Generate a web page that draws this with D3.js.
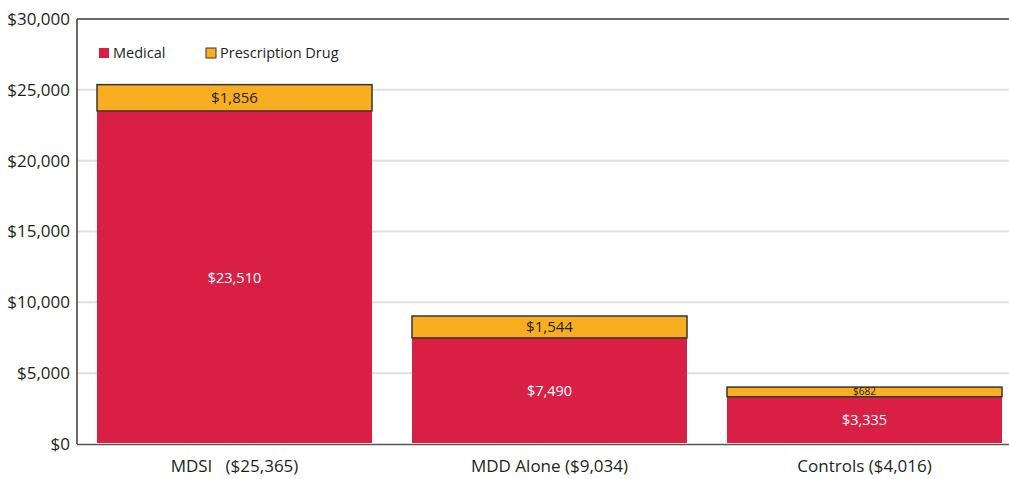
<!DOCTYPE html>
<html>
<head>
<meta charset="utf-8">
<script src="https://cdn.jsdelivr.net/npm/d3@7"></script>
<style>
  body { margin: 0; background: #fff; }
  svg { display: block; font-family: "Open Sans", "Noto Sans", sans-serif; }
</style>
</head>
<body>
<div id="chart"></div>
<script>
// data
const groups = ["MDSI", "MDD Alone", "Controls"];
const groupLabels = ["MDSI\u00a0\u00a0\u00a0($25,365)", "MDD Alone ($9,034)", "Controls ($4,016)"];
const medical = [23510, 7490, 3335];
const prescription = [1856, 1544, 682];
const yTicks = [0, 5000, 10000, 15000, 20000, 25000, 30000];
const seriesNames = ["Medical", "Prescription Drug"];

const width = 1009, height = 479;
const margin = { top: 19, right: 0, bottom: 35, left: 77 };

const svg = d3.select("#chart")
    .append("svg")
    .attr("width", width)
    .attr("height", height);

const y = d3.scaleLinear().domain([0, 30000]).range([height - margin.bottom, margin.top]);
const x = d3.scaleBand()
    .domain(groups)
    .range([margin.left, margin.left + 945])
    .paddingInner(40 / 315)
    .paddingOuter(20 / 315);

const fmt = v => "$" + d3.format(",")(v);

// gridlines
svg.append("g")
    .selectAll("line")
    .data(yTicks.filter(t => t > 0 && t < 30000))
    .join("line")
    .attr("x1", margin.left)
    .attr("x2", width)
    .attr("y1", d => y(d))
    .attr("y2", d => y(d))
    .attr("stroke", "#e0e0e0")
    .attr("stroke-width", 2);

// y axis tick labels
svg.append("g")
    .selectAll("text")
    .data(yTicks)
    .join("text")
    .attr("x", 70)
    .attr("y", d => y(d))
    .attr("dy", "0.35em")
    .attr("text-anchor", "end")
    .attr("font-size", 17)
    .attr("fill", "#231f20")
    .text(d => fmt(d));

const stacked = groups.map((g, i) => ({ g, med: medical[i], rx: prescription[i] }));

// medical bars
svg.append("g")
    .selectAll("rect")
    .data(stacked)
    .join("rect")
    .attr("x", d => x(d.g))
    .attr("width", x.bandwidth())
    .attr("y", d => y(d.med))
    .attr("height", d => y(0) - y(d.med) - 1)
    .attr("fill", "#da1f45");

// prescription drug bars
svg.append("g")
    .selectAll("rect")
    .data(stacked)
    .join("rect")
    .attr("x", d => x(d.g))
    .attr("width", x.bandwidth())
    .attr("y", d => y(d.med + d.rx))
    .attr("height", d => y(d.med) - y(d.med + d.rx))
    .attr("fill", "#f9ae22")
    .attr("stroke", "#3a3530")
    .attr("stroke-width", 1.5);

// value labels
svg.append("g")
    .selectAll("text")
    .data(stacked)
    .join("text")
    .attr("x", d => x(d.g) + x.bandwidth() / 2)
    .attr("y", d => (y(0) + y(d.med)) / 2)
    .attr("dy", "0.35em")
    .attr("text-anchor", "middle")
    .attr("font-size", 14.5)
    .attr("fill", "#fff")
    .text(d => fmt(d.med));

svg.append("g")
    .selectAll("text")
    .data(stacked)
    .join("text")
    .attr("x", d => x(d.g) + x.bandwidth() / 2)
    .attr("y", d => (y(d.med) + y(d.med + d.rx)) / 2)
    .attr("dy", "0.35em")
    .attr("text-anchor", "middle")
    .attr("font-size", d => d.rx < 1000 ? 10 : 15)
    .attr("fill", "#231f20")
    .text(d => fmt(d.rx));

// frame: left, top, bottom
svg.append("line")
    .attr("x1", margin.left).attr("x2", margin.left)
    .attr("y1", margin.top).attr("y2", y(0))
    .attr("stroke", "#3a3a3a").attr("stroke-width", 1.5);
svg.append("line")
    .attr("x1", margin.left).attr("x2", width)
    .attr("y1", margin.top).attr("y2", margin.top)
    .attr("stroke", "#3a3a3a").attr("stroke-width", 1.5);
svg.append("line")
    .attr("x1", margin.left).attr("x2", width)
    .attr("y1", y(0) + 0.5).attr("y2", y(0) + 0.5)
    .attr("stroke", "#555").attr("stroke-width", 1.5);

// category labels
svg.append("g")
    .selectAll("text")
    .data(groups)
    .join("text")
    .attr("x", d => x(d) + x.bandwidth() / 2)
    .attr("y", 466)
    .attr("dy", "0.35em")
    .attr("text-anchor", "middle")
    .attr("font-size", 17)
    .attr("fill", "#231f20")
    .text((d, i) => groupLabels[i]);

// legend
const legend = svg.append("g");
const legendX = [99, 206];
const legendColors = ["#da1f45", "#f9ae22"];
seriesNames.forEach((name, i) => {
    legend.append("rect")
        .attr("x", legendX[i])
        .attr("y", 48)
        .attr("width", 10)
        .attr("height", 10)
        .attr("fill", legendColors[i])
        .attr("stroke", i === 1 ? "#3a3530" : "none")
        .attr("stroke-width", 1);
    legend.append("text")
        .attr("x", legendX[i] + 14)
        .attr("y", 53)
        .attr("dy", "0.35em")
        .attr("font-size", 14.5)
        .attr("fill", "#231f20")
        .text(name);
});
</script>
</body>
</html>
